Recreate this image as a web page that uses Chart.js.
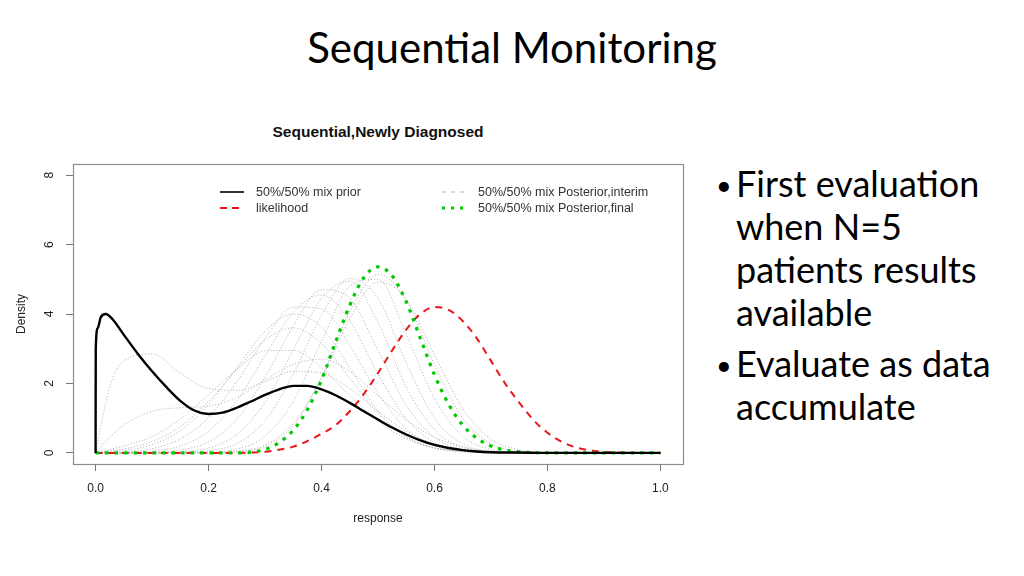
<!DOCTYPE html>
<html>
<head>
<meta charset="utf-8">
<script src="https://cdn.jsdelivr.net/npm/chart.js@4"></script>
<style>
  html, body { margin:0; padding:0; background:#fff; }
  body { width:1024px; height:576px; position:relative; overflow:hidden; }
  #slideTitle { position:absolute; left:0; width:1024px; top:22px; text-align:center;
    font-family:Lato, "Open Sans", sans-serif; font-size:42px; color:#000; line-height:50px; }
  #chartTitle { position:absolute; left:73px; width:610px; top:123px; text-align:center;
    font-family:"Liberation Sans", Arial, sans-serif; font-weight:bold; font-size:15.5px; color:#111; }
  #chartWrap { position:absolute; left:0; top:100px; width:700px; height:450px; }
  .bul { position:absolute; left:736px; font-family:Lato, "Open Sans", sans-serif; font-size:36px;
    line-height:43px; color:#000; white-space:nowrap; }
  .bul .dot { position:absolute; left:-20px; top:1px; font-size:27px; line-height:43px; }
</style>
</head>
<body>
<div id="slideTitle">Sequential Monitoring</div>
<div id="chartTitle">Sequential,Newly Diagnosed</div>
<div id="chartWrap"><canvas id="c" width="700" height="450"></canvas></div>
<div class="bul" style="top:162px"><span class="dot">•</span>First evaluation<br>when N=5<br>patients results<br>available</div>
<div class="bul" style="top:342px"><span class="dot">•</span>Evaluate as data<br>accumulate</div>
<script>
// ---------- data ----------
const xTicks = [0, 0.2, 0.4, 0.6, 0.8, 1.0];
const yTicks = [0, 2, 4, 6, 8];
const legendLabels = ["50%/50% mix prior", "likelihood", "50%/50% mix Posterior,interim", "50%/50% mix Posterior,final"];

// prior (black)
const priorX = [0, 0.0003, 0.004, 0.009, 0.018, 0.03, 0.05, 0.075, 0.1, 0.125, 0.15, 0.175, 0.2, 0.225, 0.25, 0.275, 0.3, 0.325, 0.35, 0.375, 0.4, 0.425, 0.45, 0.475, 0.5, 0.525, 0.55, 0.575, 0.6, 0.625, 0.65, 0.675, 0.7, 0.75, 0.8, 0.9, 1.0];
const priorY = [0, 3.0, 3.6, 3.9, 4.0, 3.85, 3.4, 2.85, 2.35, 1.9, 1.5, 1.22, 1.12, 1.16, 1.3, 1.48, 1.67, 1.83, 1.93, 1.93, 1.83, 1.66, 1.44, 1.2, 0.96, 0.73, 0.53, 0.36, 0.23, 0.14, 0.08, 0.04, 0.02, 0.01, 0, 0, 0];

// fine grid for likelihood and final posterior
const fineX = [0, 0.025, 0.05, 0.075, 0.1, 0.125, 0.15, 0.175, 0.2, 0.225, 0.25, 0.275, 0.3, 0.325, 0.35, 0.375, 0.4, 0.425, 0.45, 0.475, 0.5, 0.525, 0.55, 0.575, 0.6, 0.625, 0.65, 0.675, 0.7, 0.725, 0.75, 0.775, 0.8, 0.825, 0.85, 0.875, 0.9, 0.925, 0.95, 0.975, 1.0];
const likelihoodY = [0, 0, 0, 0, 0, 0, 0, 0, 0, 0, 0, 0.01, 0.03, 0.09, 0.18, 0.34, 0.55, 0.8, 1.2, 1.7, 2.3, 2.95, 3.55, 4.0, 4.2, 4.12, 3.8, 3.3, 2.65, 2.0, 1.45, 0.95, 0.58, 0.32, 0.16, 0.07, 0.03, 0.01, 0, 0, 0];
const finalY = [0, 0, 0, 0, 0, 0, 0, 0, 0, 0, 0, 0.02, 0.1, 0.3, 0.65, 1.25, 2.1, 3.2, 4.25, 5.05, 5.36, 5.1, 4.35, 3.3, 2.25, 1.4, 0.8, 0.42, 0.2, 0.08, 0.03, 0.01, 0, 0, 0, 0, 0, 0, 0, 0, 0];

// grid for interim posteriors (gray)
const interimX = [0, 0.025, 0.05, 0.1, 0.15, 0.2, 0.25, 0.3, 0.35, 0.4, 0.45, 0.5, 0.55, 0.6, 0.65, 0.7, 0.75, 0.8, 0.85, 0.9, 0.95, 1.0];
const interim01 = [0, 1.9, 2.65, 2.85, 2.3, 1.85, 1.8, 2.05, 2.35, 2.3, 1.85, 1.2, 0.62, 0.26, 0.09, 0.03, 0, 0, 0, 0, 0, 0];
const interim02 = [0, 0.45, 0.8, 1.2, 1.3, 1.35, 1.6, 2.1, 2.55, 2.7, 2.35, 1.65, 0.95, 0.45, 0.17, 0.05, 0.01, 0, 0, 0, 0, 0];
const interim03 = [0, 0.1, 0.2, 0.47, 0.97, 1.68, 2.4, 2.94, 2.95, 2.45, 1.65, 0.91, 0.41, 0.15, 0.045, 0.01, 0, 0, 0, 0, 0, 0];
const interim04 = [0, 0.06, 0.11, 0.33, 0.76, 1.48, 2.4, 3.25, 3.6, 3.15, 2.15, 1.12, 0.47, 0.15, 0.04, 0.01, 0, 0, 0, 0, 0, 0];
const interim05 = [0, 0.04, 0.07, 0.24, 0.64, 1.4, 2.45, 3.5, 4.0, 3.62, 2.45, 1.21, 0.45, 0.13, 0.03, 0, 0, 0, 0, 0, 0, 0];
const interim06 = [0, 0.01, 0.03, 0.12, 0.4, 1.02, 2.05, 3.3, 4.2, 4.15, 3.1, 1.71, 0.7, 0.21, 0.05, 0.01, 0, 0, 0, 0, 0, 0];
const interim07 = [0, 0, 0.01, 0.05, 0.2, 0.62, 1.5, 2.8, 4.05, 4.55, 3.8, 2.27, 0.98, 0.29, 0.07, 0.01, 0, 0, 0, 0, 0, 0];
const interim08 = [0, 0, 0, 0.02, 0.08, 0.32, 0.96, 2.18, 3.65, 4.7, 4.45, 2.96, 1.37, 0.45, 0.1, 0.02, 0, 0, 0, 0, 0, 0];
const interim09 = [0, 0, 0, 0.01, 0.03, 0.14, 0.53, 1.46, 2.97, 4.44, 4.95, 3.75, 1.9, 0.66, 0.16, 0.03, 0, 0, 0, 0, 0, 0];
const interim10 = [0, 0, 0, 0, 0.01, 0.06, 0.27, 0.92, 2.27, 3.96, 5.02, 4.45, 2.59, 1.0, 0.26, 0.04, 0.01, 0, 0, 0, 0, 0];
const interim11 = [0, 0, 0, 0, 0, 0.02, 0.11, 0.48, 1.49, 3.21, 4.8, 5.0, 3.41, 1.56, 0.47, 0.1, 0.01, 0, 0, 0, 0, 0];
const interim12 = [0, 0, 0, 0, 0, 0, 0.03, 0.19, 0.78, 2.18, 4.06, 5.14, 4.4, 2.54, 1.0, 0.26, 0.05, 0.01, 0, 0, 0, 0];
const interim13 = [0, 0, 0, 0, 0, 0, 0.05, 0.23, 0.85, 2.15, 3.86, 4.92, 4.43, 2.82, 1.27, 0.4, 0.09, 0.01, 0, 0, 0, 0];
const interimSeries = [interim01, interim02, interim03, interim04, interim05, interim06, interim07, interim08, interim09, interim10, interim11, interim12, interim13];

// ---------- styles ----------
const COL_PRIOR = '#000000', COL_LIK = '#e8161b', COL_FINAL = '#00c800', COL_INT = '#adadad';
const pts = (xs, ys) => xs.map((x, i) => ({ x: x, y: ys[i] }));

const datasets = [
  { label: legendLabels[0], data: pts(priorX, priorY), borderColor: COL_PRIOR, borderWidth: 2.4, order: 1 },
  { label: legendLabels[3], data: pts(fineX, finalY), borderColor: COL_FINAL, borderWidth: 3.2, borderDash: [3.5, 6], order: 2 },
  { label: legendLabels[1], data: pts(fineX, likelihoodY), borderColor: COL_LIK, borderWidth: 2, borderDash: [7, 6], order: 3 }
];
interimSeries.forEach((ys, k) => {
  datasets.push({ label: legendLabels[2] + ' ' + (k + 1), data: pts(interimX, ys), borderColor: COL_INT, borderWidth: 1, borderDash: [1, 2], order: 10 + k });
});
datasets.forEach(d => { d.pointRadius = 0; d.fill = false; d.cubicInterpolationMode = 'monotone'; d.borderCapStyle = 'butt'; });

const boxPlugin = {
  id: 'rbox',
  afterDraw(chart) {
    const ctx = chart.ctx, a = chart.chartArea;
    ctx.save();
    ctx.strokeStyle = '#8c8c8c'; ctx.lineWidth = 1.2; ctx.setLineDash([]);
    ctx.strokeRect(a.left + 0.5, a.top + 0.5, a.right - a.left, a.bottom - a.top);
    // legend
    const items = [
      { x: 220, y: 92, color: COL_PRIOR, w: 1.6, dash: [], text: legendLabels[0], len: 24 },
      { x: 220, y: 108, color: COL_LIK, w: 2, dash: [7, 5], text: legendLabels[1], len: 24 },
      { x: 442, y: 92, color: '#b4b4b4', w: 1.2, dash: [4, 5], text: legendLabels[2], len: 24 },
      { x: 442, y: 108, color: COL_FINAL, w: 3, dash: [3, 6], text: legendLabels[3], len: 24 }
    ];
    ctx.font = '12.5px "Liberation Sans", Arial, sans-serif';
    ctx.textBaseline = 'middle'; ctx.textAlign = 'left';
    items.forEach(it => {
      ctx.beginPath(); ctx.strokeStyle = it.color; ctx.lineWidth = it.w; ctx.setLineDash(it.dash);
      ctx.moveTo(it.x, it.y); ctx.lineTo(it.x + it.len, it.y); ctx.stroke();
      ctx.setLineDash([]);
      ctx.fillStyle = '#333'; ctx.fillText(it.text, it.x + 36, it.y + 0.5);
    });
    ctx.restore();
  }
};

new Chart(document.getElementById('c'), {
  type: 'line',
  data: { datasets: datasets },
  plugins: [boxPlugin],
  options: {
    responsive: false, animation: false,
    layout: { padding: { top: 64, right: 17, left: 0, bottom: 0 } },
    plugins: { legend: { display: false }, tooltip: { enabled: false }, title: { display: false } },
    scales: {
      x: {
        type: 'linear', min: -0.04, max: 1.04,
        afterBuildTicks: s => { s.ticks = xTicks.map(v => ({ value: v })); },
        afterFit: s => { s.height = 86; },
        ticks: { callback: v => v.toFixed(1), color: '#222', font: { family: '"Liberation Sans", Arial', size: 12 }, padding: 10, maxRotation: 0 },
        grid: { drawOnChartArea: false, drawTicks: true, tickLength: 7, tickColor: '#777' },
        border: { display: false },
        title: { display: true, text: 'response', color: '#222', font: { family: '"Liberation Sans", Arial', size: 12 }, padding: { top: 0, bottom: 24 } }
      },
      y: {
        type: 'linear', min: -0.32, max: 8.32,
        afterBuildTicks: s => { s.ticks = yTicks.map(v => ({ value: v })); },
        afterFit: s => { s.width = 73; },
        ticks: { color: '#222', font: { family: '"Liberation Sans", Arial', size: 12 }, padding: 13, minRotation: 90, maxRotation: 90, crossAlign: 'center' },
        grid: { drawOnChartArea: false, drawTicks: true, tickLength: 7, tickColor: '#777' },
        border: { display: false },
        title: { display: true, text: 'Density', color: '#222', font: { family: '"Liberation Sans", Arial', size: 12 }, padding: { top: 14, bottom: 0 } }
      }
    }
  }
});
</script>
</body>
</html>
